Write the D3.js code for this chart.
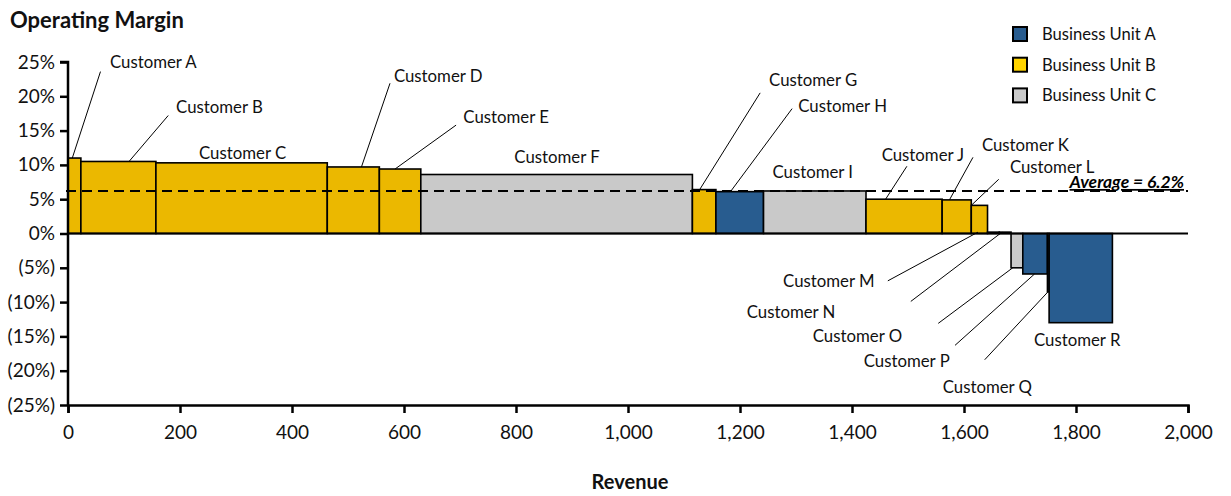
<!DOCTYPE html>
<html>
<head>
<meta charset="utf-8">
<script src="https://cdn.jsdelivr.net/npm/d3@7/dist/d3.min.js"></script>
<style>
  html, body { margin: 0; padding: 0; background: #fff; }
  svg { display: block; font-family: Lato, "Open Sans", sans-serif; }
</style>
</head>
<body>
<svg id="chart" width="1231" height="496"></svg>
<script>
// Customer revenue (bar width) and operating margin in % (bar height)
const customers = ["Customer A","Customer B","Customer C","Customer D","Customer E","Customer F",
  "Customer G","Customer H","Customer I","Customer J","Customer K","Customer L",
  "Customer M","Customer N","Customer O","Customer P","Customer Q","Customer R"];
const revenue = [23, 134, 306, 93, 74, 485, 42, 85, 183, 136, 52, 29, 21, 21, 21, 44, 3, 113];
const margin  = [11.0, 10.5, 10.3, 9.7, 9.4, 8.6, 6.4, 6.1, 6.2, 5.0, 4.9, 4.1, 0.2, 0.2, -5.0, -5.9, -8.5, -13.0];
const unit    = ["B","B","B","B","B","C","B","A","C","B","B","B","B","B","C","A","A","A"];

const businessUnits = ["A", "B", "C"];
const unitNames = ["Business Unit A", "Business Unit B", "Business Unit C"];
const averageMargin = 6.2;

const yTicks = [-25, -20, -15, -10, -5, 0, 5, 10, 15, 20, 25];
const xTicks = [0, 200, 400, 600, 800, 1000, 1200, 1400, 1600, 1800, 2000];

// Label placement in data units: text start (rev, margin), leader from (rev, margin) to a revenue point on the bar edge
const labelLayout = [
  { name: "Customer A", tx: 75,   ty: 25.0,  from: [58, 23.6],   at: 7.7 },
  { name: "Customer B", tx: 193,  ty: 18.4,  from: [179, 17.2],  at: 109 },
  { name: "Customer C", tx: 234,  ty: 11.7 },
  { name: "Customer D", tx: 582,  ty: 22.9,  from: [575, 21.9],  at: 524 },
  { name: "Customer E", tx: 706,  ty: 16.9,  from: [693, 15.8],  at: 584 },
  { name: "Customer F", tx: 797,  ty: 11.15 },
  { name: "Customer G", tx: 1252, ty: 22.3,  from: [1236, 20.5], at: 1128 },
  { name: "Customer H", tx: 1304, ty: 18.6,  from: [1293, 18.2], at: 1183 },
  { name: "Customer I", tx: 1258, ty: 8.9 },
  { name: "Customer J", tx: 1453, ty: 11.4,  from: [1498, 9.8],  at: 1460 },
  { name: "Customer K", tx: 1632, ty: 12.9,  from: [1616, 11.1], at: 1574 },
  { name: "Customer L", tx: 1682, ty: 9.7,   from: [1662, 7.9],  at: 1613 },
  { name: "Customer M", tx: 1277, ty: -6.9,  from: [1464, -6.9], at: 1625 },
  { name: "Customer N", tx: 1212, ty: -11.4, from: [1505, -9.9], at: 1668 },
  { name: "Customer O", tx: 1330, ty: -15.0, from: [1554, -13.1], at: 1687 },
  { name: "Customer P", tx: 1421, ty: -18.6, from: [1584, -16.3], at: 1726 },
  { name: "Customer Q", tx: 1562, ty: -22.4, from: [1637, -18.4], at: 1750 },
  { name: "Customer R", tx: 1725, ty: -15.6 }
];

const unitFill = d3.scaleOrdinal().domain(businessUnits).range(["#285c8f", "#ebb800", "#c9c9c9"]);
const legendFill = d3.scaleOrdinal().domain(businessUnits).range(["#285c8f", "#ffd400", "#c9c9c9"]);

// Build cumulative bar extents
let acc = 0;
const bars = customers.map((name, i) => {
  const b = { name, x0: acc, x1: acc + revenue[i], m: margin[i], unit: unit[i] };
  acc += revenue[i];
  return b;
});
const barByName = new Map(bars.map(b => [b.name, b]));

const svg = d3.select("#chart");
const x = d3.scaleLinear().domain([0, 2000]).range([68, 1188]);
const y = d3.scaleLinear().domain([-25, 25]).range([405, 62]);

// Bars
svg.append("g").selectAll("rect").data(bars).join("rect")
  .attr("x", d => x(d.x0))
  .attr("width", d => x(d.x1) - x(d.x0))
  .attr("y", d => Math.min(y(d.m), y(0)))
  .attr("height", d => Math.abs(y(d.m) - y(0)))
  .attr("fill", d => unitFill(d.unit))
  .attr("stroke", "#000")
  .attr("stroke-width", 1.6);

// Zero line
svg.append("line")
  .attr("x1", x(0)).attr("x2", x(2000))
  .attr("y1", y(0)).attr("y2", y(0))
  .attr("stroke", "#000").attr("stroke-width", 2);

// Average line
svg.append("line")
  .attr("x1", x(0) - 2).attr("x2", x(2000))
  .attr("y1", y(averageMargin)).attr("y2", y(averageMargin))
  .attr("stroke", "#000").attr("stroke-width", 2)
  .attr("stroke-dasharray", "10,6");

svg.append("text")
  .attr("x", x(2000) - 4).attr("y", y(averageMargin) - 3)
  .attr("text-anchor", "end")
  .attr("font-size", 17.5).attr("font-weight", "bold").attr("font-style", "italic")
  .attr("text-decoration", "underline")
  .text(`Average = ${averageMargin}%`);

// Leader lines
svg.append("g").selectAll("line")
  .data(labelLayout.filter(d => d.from))
  .join("line")
  .attr("x1", d => x(d.from[0])).attr("y1", d => y(d.from[1]))
  .attr("x2", d => x(d.at)).attr("y2", d => y(barByName.get(d.name).m))
  .attr("stroke", "#000").attr("stroke-width", 1);

// Customer labels
svg.append("g").selectAll("text").data(labelLayout).join("text")
  .attr("x", d => x(d.tx)).attr("y", d => y(d.ty))
  .attr("dy", "0.35em")
  .attr("font-size", 16.8)
  .attr("fill", "#111")
  .text(d => d.name);

// Axes
const yAxis = d3.axisLeft(y)
  .tickValues(yTicks)
  .tickSize(8).tickPadding(5)
  .tickFormat(v => v < 0 ? `(${-v}%)` : `${v}%`);
const gy = svg.append("g").attr("transform", `translate(${x(0)},0)`).call(yAxis);

const xAxis = d3.axisBottom(x)
  .tickValues(xTicks)
  .tickSize(8).tickPadding(13)
  .tickFormat(d3.format(","));
const gx = svg.append("g").attr("transform", `translate(0,${y(-25)})`).call(xAxis);

[gy, gx].forEach(g => {
  g.select(".domain").attr("stroke", "#000").attr("stroke-width", 2.5);
  g.selectAll(".tick line").attr("stroke", "#000").attr("stroke-width", 2.5);
  g.selectAll(".tick text").attr("fill", "#111").attr("font-size", 19)
    .style("font-family", "Lato, 'Open Sans', sans-serif");
});
gy.select(".domain").attr("d", `M-8,${y(25)}H0V${y(-25)}`);

// Titles
svg.append("text")
  .attr("x", 10).attr("y", 28)
  .attr("font-size", 22).attr("font-weight", "bold").attr("fill", "#111")
  .text("Operating Margin");

svg.append("text")
  .attr("x", 630).attr("y", 489)
  .attr("text-anchor", "middle")
  .attr("font-size", 20).attr("font-weight", "bold").attr("fill", "#111")
  .text("Revenue");

// Legend
const legend = svg.append("g").selectAll("g").data(businessUnits).join("g")
  .attr("transform", (d, i) => `translate(1013,${34 + i * 30.7})`);
legend.append("rect")
  .attr("x", 0).attr("y", -7).attr("width", 14).attr("height", 14)
  .attr("fill", d => legendFill(d))
  .attr("stroke", "#000").attr("stroke-width", 2);
legend.append("text")
  .attr("x", 29).attr("y", 0).attr("dy", "0.35em")
  .attr("font-size", 16.6).attr("fill", "#111")
  .text((d, i) => unitNames[i]);
</script>
</body>
</html>
